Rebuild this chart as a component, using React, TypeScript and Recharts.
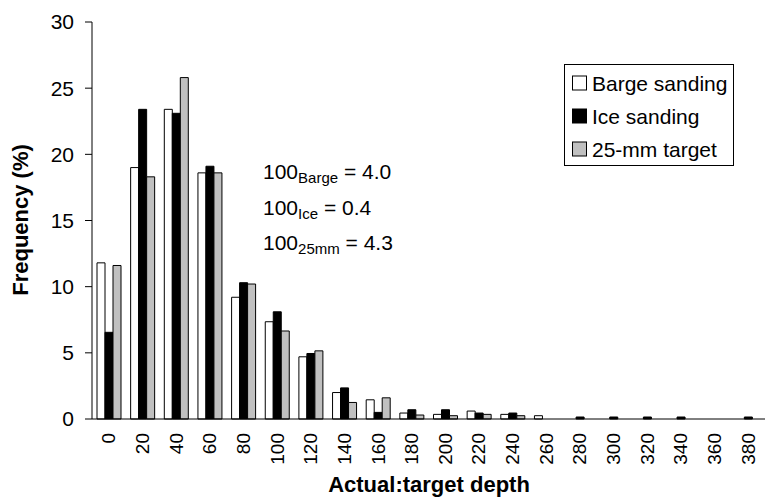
import React from "react";
import { BarChart, Bar, XAxis, YAxis } from "recharts";

const depths = [0, 20, 40, 60, 80, 100, 120, 140, 160, 180, 200, 220, 240, 260, 280, 300, 320, 340, 360, 380];
const bargeSanding = [11.8, 19.0, 23.4, 18.6, 9.2, 7.35, 4.7, 2.0, 1.45, 0.45, 0.35, 0.6, 0.35, 0.25, 0, 0, 0, 0, 0, 0];
const iceSanding = [6.55, 23.4, 23.1, 19.1, 10.3, 8.1, 4.95, 2.35, 0.5, 0.7, 0.7, 0.45, 0.45, 0, 0.15, 0.15, 0.15, 0.15, 0, 0.15];
const target25mm = [11.6, 18.3, 25.8, 18.6, 10.2, 6.65, 5.15, 1.25, 1.6, 0.3, 0.25, 0.35, 0.25, 0, 0, 0, 0, 0, 0, 0];
const yTicks = [0, 5, 10, 15, 20, 25, 30];

const seriesNames = ["Barge sanding", "Ice sanding", "25-mm target"];
const seriesFills = ["#ffffff", "#000000", "#c0c0c0"];

const data = depths.map((d, i) => ({
  depth: String(d),
  barge: bargeSanding[i],
  ice: iceSanding[i],
  target: target25mm[i],
}));

const FONT = "'Liberation Sans', Arial, sans-serif";

const DepthTick = (props: any) => {
  const { x, y, payload } = props;
  return (
    <text
      x={x}
      y={y}
      transform={`rotate(-90, ${x}, ${y})`}
      textAnchor="end"
      dominantBaseline="central"
      fontSize={19}
      fontFamily={FONT}
      fill="#000"
    >
      {payload.value}
    </text>
  );
};

export default function App() {
  return (
    <div style={{ position: "absolute", left: 0, top: 0, width: 767, height: 498, background: "#fff" }}>
      <BarChart
        width={767}
        height={498}
        data={data}
        margin={{ top: 22, right: 2, bottom: 0, left: 0 }}
        barGap={0}
      >
        <XAxis
          dataKey="depth"
          interval={0}
          tickLine={false}
          tickSize={6}
          tickMargin={8}
          height={79}
          axisLine={{ stroke: "#000" }}
          tick={<DepthTick />}
        />
        <YAxis
          width={92}
          domain={[0, 30]}
          ticks={yTicks}
          tickSize={7}
          tickMargin={11}
          tickLine={{ stroke: "#000" }}
          axisLine={{ stroke: "#000" }}
          tick={{ fill: "#000", fontSize: 21, fontFamily: FONT }}
        />
        <Bar dataKey="barge" name={seriesNames[0]} fill={seriesFills[0]} stroke="#000" strokeWidth={1} barSize={8} isAnimationActive={false} />
        <Bar dataKey="ice" name={seriesNames[1]} fill={seriesFills[1]} stroke="#000" strokeWidth={1} barSize={8} isAnimationActive={false} />
        <Bar dataKey="target" name={seriesNames[2]} fill={seriesFills[2]} stroke="#000" strokeWidth={1} barSize={8} isAnimationActive={false} />
      </BarChart>
      <svg
        width={767}
        height={498}
        style={{ position: "absolute", left: 0, top: 0, pointerEvents: "none" }}
        fontFamily={FONT}
      >
        <text
          x={20}
          y={220}
          transform="rotate(-90, 20, 220)"
          textAnchor="middle"
          dominantBaseline="central"
          fontSize={22}
          fontWeight="bold"
          fill="#000"
        >
          Frequency (%)
        </text>
        <text x={429} y={492} textAnchor="middle" fontSize={22} fontWeight="bold" fill="#000">
          Actual:target depth
        </text>

        <text x={263} y={179} fontSize={21} fill="#000">
          100<tspan fontSize={15} dy={4}>Barge</tspan>
          <tspan dy={-4}> = 4.0</tspan>
        </text>
        <text x={263} y={215} fontSize={21} fill="#000">
          100<tspan fontSize={15} dy={4}>Ice</tspan>
          <tspan dy={-4}> = 0.4</tspan>
        </text>
        <text x={263} y={250} fontSize={21} fill="#000">
          100<tspan fontSize={15} dy={4}>25mm</tspan>
          <tspan dy={-4}> = 4.3</tspan>
        </text>

        <rect x={564.5} y={64.5} width={169} height={101} fill="#fff" stroke="#000" strokeWidth={1} />
        {seriesNames.map((name, i) => {
          const cy = 83 + i * 33;
          return (
            <g key={name}>
              <rect x={572.5} y={cy - 7} width={14} height={14} fill={seriesFills[i]} stroke="#000" strokeWidth={1} />
              <text x={592} y={cy} dominantBaseline="central" fontSize={21} fill="#000">
                {name}
              </text>
            </g>
          );
        })}
      </svg>
    </div>
  );
}
